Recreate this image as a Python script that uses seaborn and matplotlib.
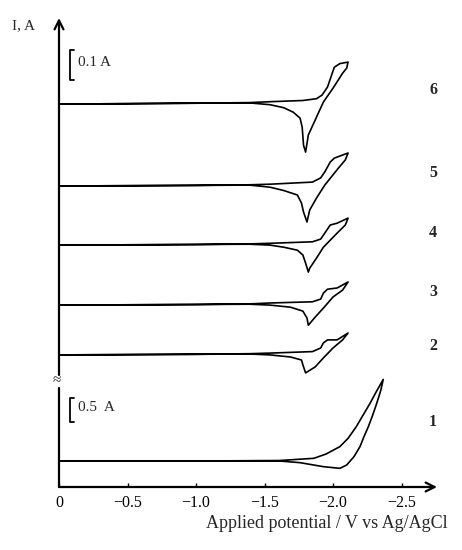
import matplotlib
matplotlib.use("Agg")
import matplotlib.pyplot as plt
import seaborn as sns

# Cyclic voltammograms, potential in V vs Ag/AgCl, current in A relative to
# each trace's own baseline. Each trace runs 0 V -> vertex -> back to 0 V.
cv1_E = [0, -1.0, -1.61, -1.86, -1.95, -2.05, -2.11, -2.17, -2.22, -2.27, -2.32, -2.367,
         -2.348, -2.319, -2.29, -2.258, -2.226, -2.197, -2.153, -2.10, -2.05, -1.93,
         -1.76, -1.61, -1.0, 0]
cv1_I = [0, 0, 0.01, 0.056, 0.146, 0.299, 0.472, 0.715, 0.958, 1.20, 1.465, 1.70,
         1.465, 1.20, 0.958, 0.715, 0.507, 0.299, 0.09, -0.083, -0.153, -0.118,
         -0.035, 0, 0, 0]

cv2_E = [0, -1.0, -1.39, -1.54, -1.85, -1.91, -1.93, -1.96, -2.03, -2.11,
         -2.07, -2.00, -1.93, -1.87, -1.80, -1.78, -1.77, -1.69, -1.54, -1.39, -1.0, 0]
cv2_I = [0, 0.002, 0.004, 0.006, 0.011, 0.023, 0.04, 0.05, 0.05, 0.073,
         0.05, 0.023, -0.01, -0.04, -0.06, -0.033, -0.017, -0.007, 0, 0.003, 0.002, 0]

cv3_E = [0, -1.0, -1.39, -1.54, -1.85, -1.91, -1.93, -1.96, -2.03, -2.11,
         -2.07, -2.00, -1.93, -1.87, -1.82, -1.81, -1.78, -1.69, -1.54, -1.39, -1.0, 0]
cv3_I = [0, 0.002, 0.004, 0.007, 0.011, 0.02, 0.04, 0.053, 0.057, 0.077,
         0.05, 0.027, -0.01, -0.04, -0.067, -0.043, -0.02, -0.007, 0, 0.003, 0.002, 0]

cv4_E = [0, -1.0, -1.39, -1.54, -1.85, -1.91, -1.94, -1.98, -2.03, -2.11,
         -2.09, -2.03, -1.93, -1.88, -1.83, -1.82, -1.80, -1.78, -1.74, -1.64, -1.54,
         -1.39, -1.0, 0]
cv4_I = [0, 0.002, 0.004, 0.006, 0.011, 0.02, 0.04, 0.067, 0.073, 0.09,
         0.067, 0.04, -0.007, -0.043, -0.077, -0.09, -0.06, -0.033, -0.017, -0.007, 0,
         0.003, 0.002, 0]

cv5_E = [0, -1.0, -1.39, -1.54, -1.85, -1.91, -1.94, -1.98, -2.01, -2.11,
         -2.09, -2.04, -1.94, -1.88, -1.83, -1.81, -1.785, -1.77, -1.74, -1.64, -1.54,
         -1.39, -1.0, 0]
cv5_I = [0, 0.002, 0.004, 0.006, 0.013, 0.027, 0.047, 0.08, 0.093, 0.11,
         0.087, 0.06, 0.003, -0.04, -0.08, -0.12, -0.087, -0.057, -0.03, -0.015, -0.004,
         0.003, 0.002, 0]

cv6_E = [0, -1.0, -1.39, -1.54, -1.78, -1.88, -1.92, -1.96, -1.99, -2.01, -2.05, -2.11,
         -2.10, -2.07, -2.00, -1.93, -1.88, -1.82, -1.80, -1.785, -1.775, -1.76, -1.71,
         -1.64, -1.54, -1.39, -1.0, 0]
cv6_I = [0, 0.003, 0.005, 0.008, 0.012, 0.018, 0.03, 0.057, 0.097, 0.123, 0.135, 0.14,
         0.12, 0.103, 0.053, 0.007, -0.043, -0.103, -0.16, -0.137, -0.077, -0.047, -0.027,
         -0.012, -0.002, 0.004, 0.003, 0]

trace_labels = ["1", "2", "3", "4", "5", "6"]
scale_bars = [0.1, 0.5]          # A, upper panel / lower panel
x_ticks = [0, -0.5, -1.0, -1.5, -2.0, -2.5]
x_tick_labels = ["0", "\u22120.5", "\u22121.0", "\u22121.5", "\u22122.0", "\u22122.5"]

# layout (pixel based, 462 x 550 canvas)
W, H = 462, 550
upper_offsets = [0.067, 0.233, 0.433, 0.63, 0.903]   # stacking of traces 2..6
label_y_px = [422, 346, 292, 233, 173, 90]


def px_box(left, top, right, bottom):
    return [left / W, 1 - bottom / H, (right - left) / W, (bottom - top) / H]


sns.set_theme(style="white")
plt.rcParams["font.family"] = ["Liberation Serif", "DejaVu Serif"]

fig = plt.figure(figsize=(W / 100, H / 100), dpi=100)
ax_up = fig.add_axes(px_box(59, 18, 437, 375))
ax_lo = fig.add_axes(px_box(59, 388, 437, 487))

xmax = -(437 - 59) / 137
for ax in (ax_up, ax_lo):
    ax.set_xlim(0, xmax)
    ax.set_facecolor("none")
    for s in ax.spines.values():
        s.set_visible(False)
    ax.set_yticks([])
ax_up.set_ylim(0, (375 - 18) / 300)
ax_lo.set_ylim((461 - 487) / 48, (461 - 388) / 48)

line_kw = dict(color="black", lw=1.2, sort=False, estimator=None, legend=False)

# trace 1 on its own scale
sns.lineplot(x=cv1_E, y=cv1_I, ax=ax_lo, **line_kw)
ax_lo.lines[-1].set_clip_on(False)

upper = [(cv2_E, cv2_I), (cv3_E, cv3_I), (cv4_E, cv4_I), (cv5_E, cv5_I), (cv6_E, cv6_I)]
for (E, I), off in zip(upper, upper_offsets):
    sns.lineplot(x=E, y=[off + v for v in I], ax=ax_up, **line_kw)
    ax_up.lines[-1].set_clip_on(False)

# axes lines with open arrow heads
arrow = dict(arrowstyle="->", lw=1.6, color="black", shrinkA=0, shrinkB=0,
             mutation_scale=16)
ax_up.annotate("", xy=(0, 1), xytext=(0, 0), xycoords="axes fraction",
               arrowprops=arrow, annotation_clip=False)
ax_lo.plot([0, 0], [0, 1], transform=ax_lo.transAxes, color="black", lw=1.6,
           clip_on=False)
ax_lo.annotate("", xy=(1, 0), xytext=(0, 0), xycoords="axes fraction",
               arrowprops=arrow, annotation_clip=False)

ax_up.set_xticks([])
ax_lo.set_xticks(x_ticks)
ax_lo.set_xticklabels(x_tick_labels, fontsize=11.5)
ax_lo.tick_params(axis="x", direction="in", length=3, width=1.0, pad=6,
                  bottom=True, colors="black")
ax_lo.tick_params(axis="y", left=False)

# scale bars
def bracket(ax, x0, y0, h, text):
    dx = 0.03
    ax.plot([x0 - dx, x0, x0, x0 - dx], [y0, y0, y0 + h, y0 + h],
            color="black", lw=1.3, clip_on=False)
    ax.text(x0 - 0.06, y0 + h * 0.6, text, fontsize=11, va="center", ha="left")

bracket(ax_up, -(70 - 59) / 137, (375 - 80) / 300, scale_bars[0], f"{scale_bars[0]} A")
bracket(ax_lo, -(70 - 59) / 137, (461 - 422) / 48, scale_bars[1], f"{scale_bars[1]}  A")

# trace numbers
for lab, yp in zip(trace_labels, label_y_px):
    fig.text(433 / W, 1 - yp / H, lab, fontsize=11.5, fontweight="bold",
             ha="center", va="center")

fig.text(12 / W, 1 - 26 / H, "I, A", fontsize=11, ha="left", va="center")
fig.text(57 / W, 1 - 381 / H, "\u2248", fontsize=11, ha="center", va="center")
fig.text(448 / W, 1 - 523 / H, "Applied potential / V vs Ag/AgCl", fontsize=13,
         ha="right", va="center")

fig.savefig("out.png", dpi=100)
